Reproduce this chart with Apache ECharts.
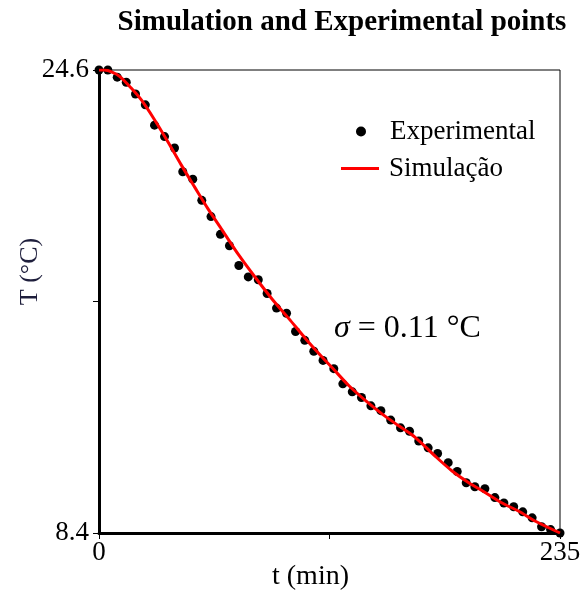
<!DOCTYPE html>
<html>
<head>
<meta charset="utf-8">
<script src="https://cdn.jsdelivr.net/npm/echarts@6/dist/echarts.min.js"></script>
<style>html,body{margin:0;padding:0;background:#fff}#c{width:586px;height:591px}</style>
</head>
<body>
<div id="c"></div>
<script>
// Experimental points: time (min) and temperature (°C)
var expTime = [0, 4.5, 9.3, 13.9, 18.6, 23.6, 28.3, 33.4, 38.5, 42.7, 47.8, 52.4, 57.1, 61.9, 66.5, 71.3, 76.1, 81.2, 85.7, 90.5, 95.6, 100.2, 104.9, 109.5, 114.2, 119.7, 124.3, 129.1, 133.8, 138.6, 143.7, 148.7, 153.7, 158.3, 163.0, 167.8, 172.6, 178.0, 182.6, 187.2, 191.6, 196.7, 201.8, 206.4, 211.4, 216.0, 220.8, 225.6, 230.2, 235];
var expTemp = [24.6, 24.6, 24.35, 24.17, 23.76, 23.38, 22.67, 22.27, 21.87, 21.04, 20.78, 20.04, 19.47, 18.85, 18.45, 17.76, 17.36, 17.26, 16.78, 16.27, 16.09, 15.45, 15.14, 14.76, 14.44, 14.15, 13.62, 13.34, 13.14, 12.85, 12.68, 12.35, 12.08, 11.96, 11.62, 11.38, 11.18, 10.86, 10.55, 10.16, 10.02, 9.95, 9.64, 9.45, 9.32, 9.14, 8.93, 8.62, 8.52, 8.4];
// Simulation curve
var simTime = [0, 2.8, 6.9, 10.5, 16.4, 21.5, 28.3, 35.1, 41.9, 48.7, 55.5, 62.8, 71.3, 79.8, 88.3, 96.8, 105.3, 113.8, 118.9, 127.3, 135.9, 144.4, 152.8, 161.3, 171.5, 180.0, 188.5, 197.0, 205.5, 214.0, 222.5, 235];
var simTemp = [24.6, 24.6, 24.52, 24.38, 23.97, 23.56, 22.86, 22.09, 21.28, 20.51, 19.75, 19.0, 18.12, 17.33, 16.58, 15.90, 15.2, 14.55, 14.18, 13.56, 13.03, 12.56, 12.15, 11.74, 11.08, 10.57, 10.16, 9.81, 9.45, 9.16, 8.81, 8.4];
var xTicks = [0, 117.5, 235];
var xLabels = [0, 235];
var yTicks = [8.4, 16.5, 24.6];
var yLabels = [8.4, 24.6];

var serif = '"Liberation Serif", "DejaVu Serif", serif';
var expData = expTime.map(function (t, i) { return [t, expTemp[i]]; });
var simData = simTime.map(function (t, i) { return [t, simTemp[i]]; });

var chart = echarts.init(document.getElementById('c'), null, {renderer: 'canvas'});
chart.setOption({
  animation: false,
  backgroundColor: '#fff',
  title: [{
    text: 'Simulation and Experimental points',
    left: 337, top: 3, textAlign: 'center',
    textStyle: {fontFamily: serif, fontWeight: 'bold', fontSize: 29, color: '#000'}
  }, {
    text: '{i|σ} = 0.11 °C',
    left: 329, top: 308,
    textStyle: {fontFamily: serif, fontWeight: 'normal', fontSize: 32, color: '#000',
      rich: {i: {fontFamily: serif, fontStyle: 'italic', fontSize: 32, color: '#000'}}}
  }],
  legend: [{
    data: ['Experimental'],
    left: 351, top: 113,
    itemWidth: 10, itemHeight: 10, itemGap: 8,
    icon: 'circle',
    textStyle: {fontFamily: serif, fontSize: 27, color: '#000', padding: [0, 0, 0, 19]}
  }, {
    data: ['Simulação'],
    left: 336, top: 150,
    itemWidth: 38, itemHeight: 3,
    icon: 'rect',
    textStyle: {fontFamily: serif, fontSize: 27, color: '#000', padding: [0, 0, 0, 5]}
  }],
  grid: {left: 99, right: 26, top: 70, bottom: 58, show: true, borderColor: '#000', borderWidth: 1,
    containLabel: false, outerBoundsMode: 'none'},
  xAxis: {
    type: 'value', min: 0, max: 235,
    name: 't (min)', nameLocation: 'middle', nameGap: 30, nameMoveOverlap: false,
    nameTextStyle: {fontFamily: serif, fontSize: 28, color: '#000', padding: [0, 38, 0, 0]},
    axisLine: {show: true, lineStyle: {color: '#000', width: 3}},
    axisTick: {show: true, length: 6, customValues: xTicks, lineStyle: {color: '#000', width: 1}},
    axisLabel: {customValues: xLabels, fontFamily: serif, fontSize: 27, color: '#000', margin: 6},
    splitLine: {show: false}
  },
  yAxis: {
    type: 'value', min: 8.4, max: 24.6,
    name: 'T (°C)', nameLocation: 'middle', nameGap: 56, nameRotate: 90, nameMoveOverlap: false,
    nameTextStyle: {fontFamily: serif, fontSize: 26, color: '#1e1e3c', padding: [0, 0, 0, 60]},
    axisLine: {show: true, lineStyle: {color: '#000', width: 3}},
    axisTick: {show: true, length: 6, customValues: yTicks, lineStyle: {color: '#000', width: 1}},
    axisLabel: {customValues: yLabels, fontFamily: serif, fontSize: 27, color: '#000', margin: 10,
      formatter: function (v) { return v.toFixed(1); }},
    splitLine: {show: false}
  },
  series: [{
    name: 'Experimental', type: 'scatter', data: expData,
    symbol: 'circle', symbolSize: 9,
    itemStyle: {color: '#000', opacity: 1}, z: 2
  }, {
    name: 'Simulação', type: 'line', data: simData,
    smooth: 0.3, showSymbol: false, symbol: 'none',
    lineStyle: {color: '#ff0000', width: 3},
    itemStyle: {color: '#ff0000'}, z: 3
  }]
});
</script>
</body>
</html>
